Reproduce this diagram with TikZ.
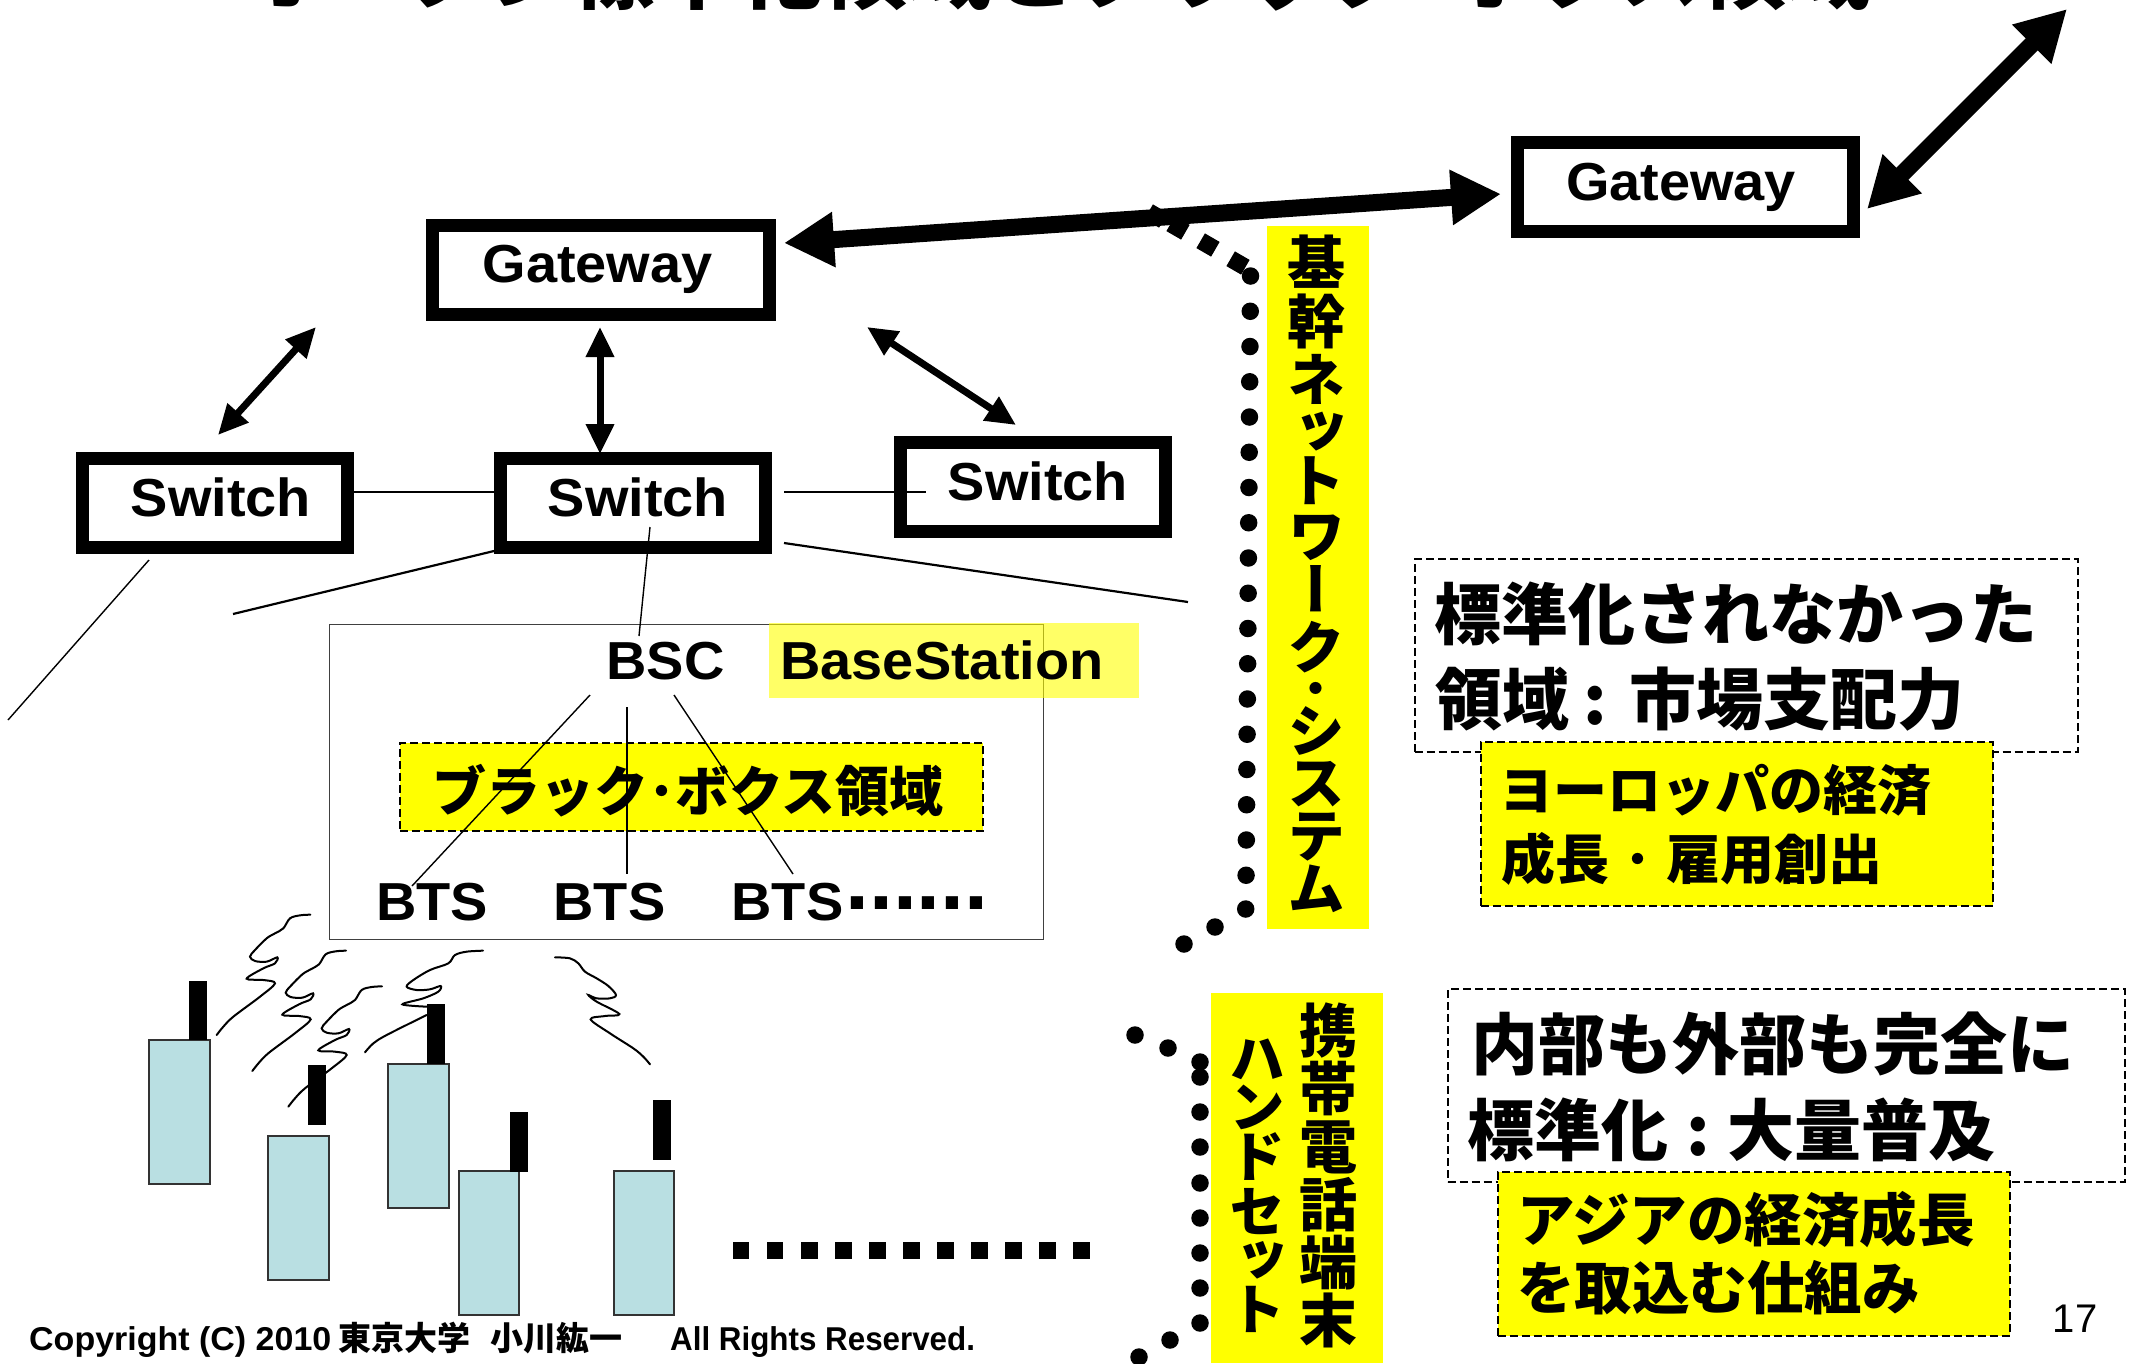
\documentclass[tikz,border=0pt]{standalone}
\usepackage{graphicx}
\usepackage{fontspec}
\usetikzlibrary{arrows.meta}
\setmainfont{Liberation Sans}
\newfontfamily\latw{Liberation Sans}[FakeStretch=1.045]
\newfontfamily\jp{Noto Sans CJK JP}
\newfontfamily\jpv{Noto Sans CJK JP}[RawFeature=+vert]
\definecolor{phone}{HTML}{B9DFE2}
\definecolor{yy}{RGB}{255,255,0}
\lineskiplimit=-100pt
\normallineskiplimit=-100pt
\tikzset{
  box/.style={draw=black,fill=white,line width=13pt,inner sep=0pt,minimum width=#1,minimum height=89pt},
  lat/.style={font=\latw\bfseries\fontsize{53.5}{54}\selectfont,anchor=base,inner sep=0pt},
  jt/.style={font=\jp\bfseries\fontsize{#1}{#1}\selectfont,anchor=base west,inner sep=0pt},
  vt/.style={align=center,inner sep=0pt,anchor=north},
  yel/.style={draw=black,fill=yy,line width=2pt,dash pattern=on 8pt off 4pt},
  wht/.style={draw=black,fill=white,line width=2pt,dash pattern=on 8pt off 4pt},
  big/.style={line width=17pt,{Triangle[length=50pt,width=52pt]}-{Triangle[length=50pt,width=52pt]}},
  mid/.style={line width=7pt,{Triangle[length=30pt,width=27pt]}-{Triangle[length=30pt,width=27pt]}},
  wire/.style={line width=2.2pt},
  thin wire/.style={line width=1.4pt},
  phonebody/.style={draw=black!80,fill=phone,line width=2pt},
  dotc/.style={fill=black},
  sq/.style={fill=black,inner sep=0pt,minimum size=17pt},
  wave/.style={line width=2pt,line cap=round},
}
\begin{document}
\begin{tikzpicture}[x=1pt,y=-1pt]
\useasboundingbox (0,0) rectangle (2140,1363);
% title (cut off by the top edge of the page)
\node[jt=84] (title) at (240,2) {オープン標準化領域とブラック･ボクス領域};

% coordinates of free ends
\coordinate (a1) at (784,243);   \coordinate (a2) at (1501,194);
\coordinate (b1) at (1867,209);  \coordinate (b2) at (2067,9);
\coordinate (c1) at (218,435);   \coordinate (c2) at (316,327);
\coordinate (d1) at (600,327);   \coordinate (d2) at (600,454);
\coordinate (e1) at (867,327);   \coordinate (e2) at (1016,425);

% yellow columns and dotted brackets
\fill[yy] (1267,226) rectangle (1369,929);
\fill[yy] (1211,993) rectangle (1383,1363);
\foreach \i in {0,...,17} \fill[dotc] ({1250.5-\i*0.26},{276+\i*35.25}) circle (8.75pt);
\fill[dotc] (1245.7,909) circle (8.75pt);
\fill[dotc] (1215,927) circle (8.75pt);
\fill[dotc] (1184,944) circle (8.75pt);
\foreach \i/\px/\py in {1/1156/216,2/1178/228,3/1208/245,4/1238/263}
  \node[sq,rotate=-30] (tick\i) at (\px,\py) {};
\foreach \px/\py in {1135/1035,1168/1048,1200/1062,1200/1077,1200/1112,1200/1147,1200/1183,1200/1218,1200/1253,1200/1288,1200/1323,1170/1340,1139/1357}
  \fill[dotc] (\px,\py) circle (8.75pt);
\node[vt,font=\jpv\bfseries\fontsize{58}{50}\selectfont] (v1) at (1316,235) {基\\[8.5pt]幹\\[8.5pt]ネ\\[1pt]ッ\\ト\\[5pt]ワ\\[4pt]ー\\[8pt]ク\\[-9pt]･\\[-8pt]シ\\[2pt]ス\\[3pt]テ\\[3pt]ム};
\node[vt,font=\jpv\bfseries\fontsize{58}{58}\selectfont] (v2) at (1328,1003) {携\\帯\\電\\話\\端\\末};
\node[vt,font=\jpv\bfseries\fontsize{56}{48}\selectfont] (v3) at (1257,1039) {ハ\\ン\\[2pt]ド\\[7pt]セ\\ッ\\[2pt]ト};

% boxes
\node[box=337pt] (gw1) at (601,269.5) {};
\node[box=336pt] (gw2) at (1685.5,186.5) {};
\node[box=265pt] (sw1) at (215,503) {};
\node[box=265pt] (sw2) at (632.5,503) {};
\node[box=265pt] (sw3) at (1033,486.5) {};
\node[lat] (t1) at (597.5,282) {Gateway};
\node[lat] (t2) at (1681,200) {Gateway};
\node[lat] (t3) at (221,516) {Switch};
\node[lat] (t4) at (638,516) {Switch};
\node[lat] (t5) at (1038,500) {Switch};

% arrows
\draw[big] (a1) -- (a2);
\draw[big] (b1) -- (b2);
\draw[mid] (c1) -- (c2);
\draw[mid] (d1) -- (d2);
\draw[mid] (e1) -- (e2);

% base station group
\draw[black!75,line width=1pt] (329,624) rectangle (1043,939);
\fill[yy,opacity=.6] (769,623) rectangle (1139,698);
\node[lat] (bs) at (942,679) {BaseStation};
\node[lat] (bsc) at (665.5,679) {BSC};
\node[yel,minimum width=583pt,minimum height=88pt,inner sep=0pt] (bb) at (691.5,787) {};
\node[jt=54] (bbt) at (432,811) {ブラック･ボクス領域};
\node[lat] (b1t) at (432,920) {BTS};
\node[lat] (b2t) at (609.5,920) {BTS};
\node[lat] (b3t) at (787.5,920) {BTS};
\node[anchor=base west,inner sep=0pt,font=\bfseries\fontsize{86}{86}\selectfont] (bdots) at (845,909) {......};

% wires
\coordinate (w1a) at (354,492);  \coordinate (w1b) at (494,492);
\coordinate (w2a) at (784,492);  \coordinate (w2b) at (926,492);
\coordinate (w3a) at (494,551);  \coordinate (w3b) at (233,614);
\coordinate (w4a) at (784,543);  \coordinate (w4b) at (1188,602);
\coordinate (w5a) at (149,560);  \coordinate (w5b) at (8,720);
\coordinate (w6a) at (650,527);  \coordinate (w6b) at (639,636);
\coordinate (w7a) at (590,695);  \coordinate (w7b) at (412,886);
\coordinate (w8a) at (627,707);  \coordinate (w8b) at (627,874);
\coordinate (w9a) at (674,695);  \coordinate (w9b) at (793,874);
\draw[wire] (w1a) -- (w1b);
\draw[wire] (w2a) -- (w2b);
\draw[wire] (w3a) -- (w3b);
\draw[wire] (w4a) -- (w4b);
\draw[thin wire] (w5a) -- (w5b);
\draw[thin wire] (w6a) -- (w6b);
\draw[thin wire] (w7a) -- (w7b);
\draw[wire] (w8a) -- (w8b);
\draw[thin wire] (w9a) -- (w9b);

% radio waves
\begin{scope}[shift={(200,900)},x=0.33333pt,y=-0.33333pt]
  \foreach \dx/\dy in {0/0,107/108,215/215}
    \draw[wave,xshift=\dx*0.33333pt,yshift=-\dy*0.33333pt] plot[smooth,tension=.55] coordinates {(331,44)(300,46)(270,55)(250,85)(225,100)(200,115)(165,150)(150,170)(165,183)(200,185)(232,172)(225,190)(190,205)(140,236)(190,240)(225,250)(180,290)(100,350)(70,380)(50,405)};
  \draw[wave] plot[smooth,tension=.55] coordinates {(849,152)(800,155)(765,165)(745,190)(690,210)(640,240)(620,260)(650,270)(690,268)(722,258)(715,275)(670,295)(607,313)(680,320)};
  \draw[wave] plot[smooth,tension=.55] coordinates {(680,345)(560,405)(520,430)(495,457)};
  \draw[wave] plot[smooth,tension=.55] coordinates {(1065,172)(1110,175)(1135,190)(1155,215)(1190,235)(1225,258)(1248,285)(1230,295)(1190,295)(1165,285)(1190,305)(1258,342)(1215,348)(1172,358)(1230,400)(1300,445)(1330,470)(1350,493)};
\end{scope}

% handsets
\foreach \xa/\xb/\ya/\yb in {149/210/1040/1184,268/329/1136/1280,388/448.5/1064/1208,459/519/1171/1315,614/674/1171/1315}
  \draw[phonebody] (\xa,\ya) rectangle (\xb,\yb);
\foreach \xa/\xb/\ya/\yb in {189/207/981/1040,308/326/1065/1125,427/445/1004/1064,510/528/1112/1172,653/671/1100/1160}
  \fill[black] (\xa,\ya) rectangle (\xb,\yb);
\foreach \i in {0,...,10}
  \fill[black] ({732.7+\i*34.07},1242) rectangle ++(16.7,17);

% right-hand notes
\node[wht,minimum width=663pt,minimum height=193pt,inner sep=0pt] (n1) at (1746,655.5) {};
\node[yel,minimum width=512pt,minimum height=164pt,inner sep=0pt] (n2) at (1737,824) {};
\node[jt=67] (n1a) at (1434,639) {標準化されなかった};
\node[jt=67] (n1b) at (1435,724) {領域\hspace{14pt}:\hspace{23pt}市場支配力};
\node[jt=54] (n2a) at (1499,810) {ヨーロッパの経済};
\node[jt=54] (n2b) at (1501,879) {成長\hspace{15pt}･\hspace{15pt}雇用創出};
\node[wht,minimum width=677pt,minimum height=193pt,inner sep=0pt] (n3) at (1786,1085.5) {};
\node[yel,minimum width=512pt,minimum height=164pt,inner sep=0pt] (n4) at (1753.5,1254) {};
\node[jt=67] (n3a) at (1471,1069) {内部も外部も完全に};
\node[jt=67] (n3b) at (1467,1155) {標準化\hspace{18pt}:\hspace{18pt}大量普及};
\node[jt=57.5] (n4a) at (1517,1241) {アジアの経済成長};
\node[jt=57.5] (n4b) at (1517,1309) {を取込む仕組み};

% footer
\node[anchor=base west,inner sep=0pt,font=\bfseries\fontsize{33}{33}\selectfont] (copy) at (29,1350)
  {\makebox[309pt][l]{\scalebox{1.03}[1]{Copyright (C) 2010}}\makebox[152pt][l]{\jp 東京大学}\makebox[180pt][l]{\jp 小川紘一}\scalebox{.95}[1]{All Rights Reserved.}};
\node[anchor=base,inner sep=0pt,font=\fontsize{40}{40}\selectfont] (pg) at (2075,1332) {17};
\end{tikzpicture}
\end{document}
